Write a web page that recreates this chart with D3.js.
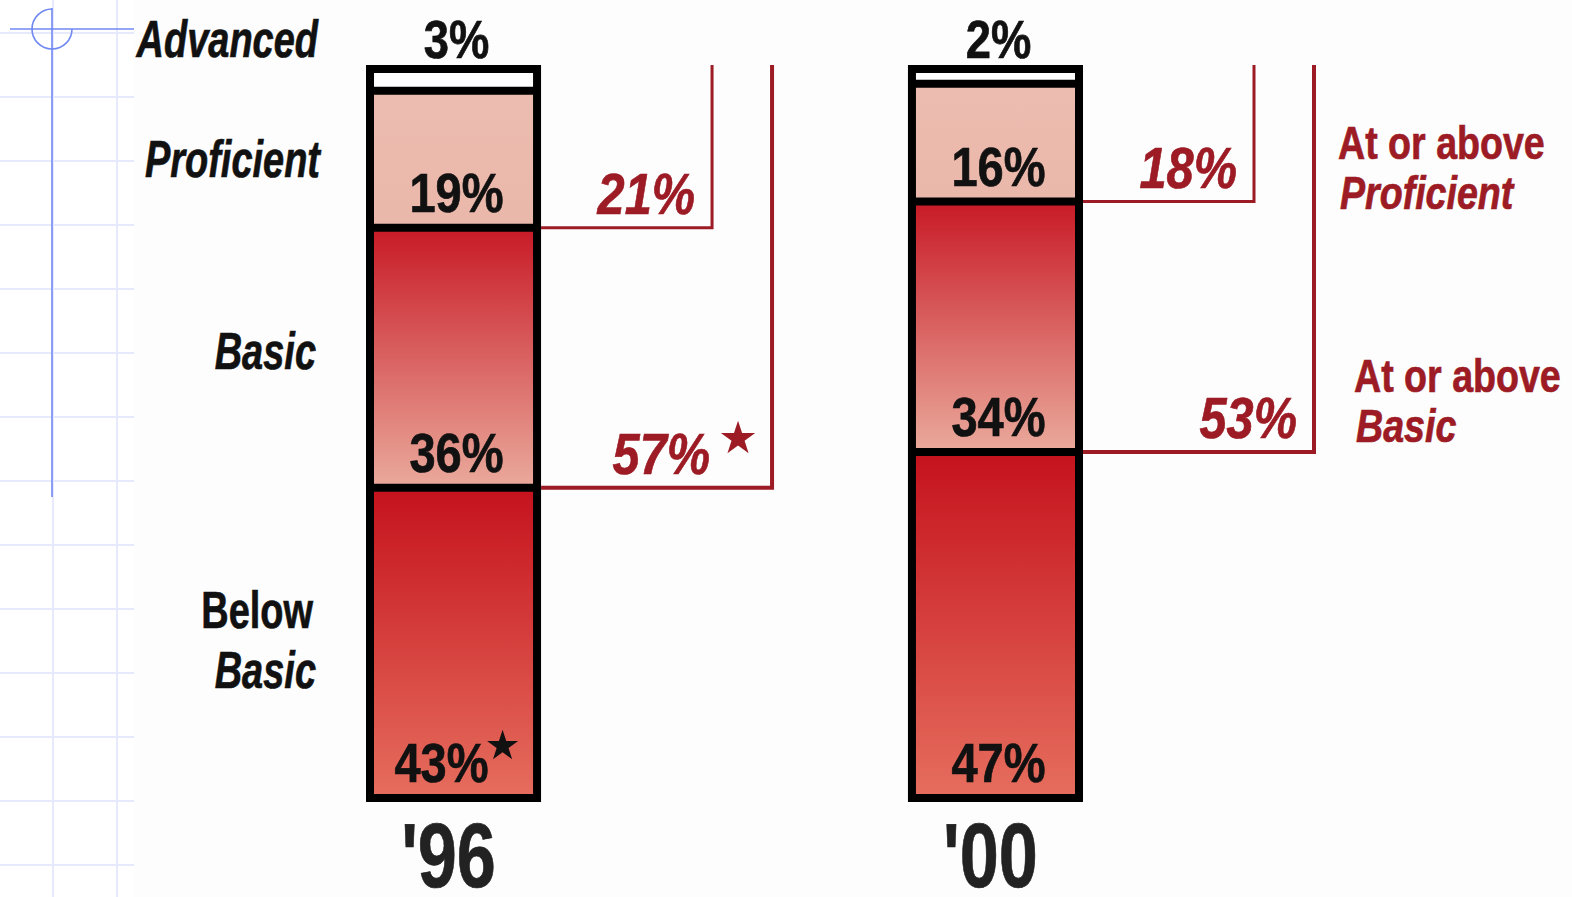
<!DOCTYPE html>
<html>
<head>
<meta charset="utf-8">
<script src="https://cdn.jsdelivr.net/npm/d3@7"></script>
<style>
  html, body { margin: 0; padding: 0; background: #fdfdfd; }
  svg { display: block; }
</style>
</head>
<body>
<svg id="chart" width="1572" height="897"></svg>
<script>
// ---------------- data ----------------
const years = ["'96", "'00"];
const advanced = [3, 2];
const proficient = [19, 16];
const basic = [36, 34];
const belowBasic = [43, 47];
const atOrAboveProficient = [21, 18];
const atOrAboveBasic = [57, 53];
const belowBasicStar = [true, false];
const atOrAboveBasicStar = [true, false];
const levelLabels = ["Advanced", "Proficient", "Basic", ["Below", "Basic"]];
const legendLabels = [["At or above", "Proficient"], ["At or above", "Basic"]];

// ---------------- setup ----------------
const W = 1572, H = 897;
const svg = d3.select("#chart");
const FONT = "'Liberation Sans', Arial, Helvetica, sans-serif";
const RED = "#9c1b24";
const BORDER = 8;

// condensed text helper: horizontally scaled text
function ctext(parent, x, y, str, o) {
  const sx = o.sx || 0.78;
  const g = parent.append("g").attr("transform", `translate(${x},${y}) scale(${sx},1)`);
  const t = g.append("text")
    .attr("text-anchor", o.anchor || "start")
    .attr("font-family", FONT).attr("font-weight", "bold")
    .attr("font-style", o.italic ? "italic" : "normal")
    .attr("font-size", o.size).attr("fill", o.fill || "#111")
    .attr("stroke", o.fill || "#111").attr("stroke-width", 0.7)
    .text(str);
  return { g, t, w: t.node().getComputedTextLength() * sx };
}

// background
svg.append("rect").attr("width", W).attr("height", H).attr("fill", "#fdfdfd");

// left decorative grid
const gridG = svg.append("g");
gridG.append("rect").attr("x", 0).attr("y", 0).attr("width", 134).attr("height", H).attr("fill", "#ffffff");
d3.range(33, H, 64).forEach(y => {
  gridG.append("line").attr("x1", 0).attr("x2", 134).attr("y1", y).attr("y2", y)
    .attr("stroke", "#e6eafc").attr("stroke-width", 2);
});
[53, 117].forEach(x => {
  gridG.append("line").attr("x1", x).attr("x2", x).attr("y1", 0).attr("y2", H)
    .attr("stroke", "#e6eafc").attr("stroke-width", 2);
});
const BLUE = "#7088f2";
gridG.append("line").attr("x1", 10).attr("x2", 134).attr("y1", 29).attr("y2", 29)
  .attr("stroke", BLUE).attr("stroke-width", 1.6);
gridG.append("line").attr("x1", 52).attr("x2", 52).attr("y1", 8).attr("y2", 497)
  .attr("stroke", BLUE).attr("stroke-width", 1.6);
const arcP = d3.path();
arcP.arc(52, 29, 20, 0, 1.5 * Math.PI);
gridG.append("path").attr("d", arcP.toString()).attr("fill", "none")
  .attr("stroke", BLUE).attr("stroke-width", 1.6);

// gradients
const defs = svg.append("defs");
function grad(id, c0, c1) {
  const g = defs.append("linearGradient").attr("id", id)
    .attr("x1", 0).attr("y1", 0).attr("x2", 0).attr("y2", 1);
  g.append("stop").attr("offset", "0%").attr("stop-color", c0);
  g.append("stop").attr("offset", "100%").attr("stop-color", c1);
}
grad("gBasic", "#c81a26", "#eaaa9c");
grad("gBelow", "#c5121d", "#e66e5e");
grad("gProf", "#ecbcb0", "#eab8aa");

// scales
const x = d3.scaleBand().domain(years).range([366, 1083]).paddingInner(0.677).paddingOuter(0);
const bw = x.bandwidth();
const yTop = 65, yBottom = 802;

const star = d3.symbol().type(d3.symbolStar).size(364);

years.forEach((yr, i) => {
  const segs = [
    { key: "below", v: belowBasic[i], fill: "url(#gBelow)" },
    { key: "basic", v: basic[i], fill: "url(#gBasic)" },
    { key: "prof", v: proficient[i], fill: "url(#gProf)" },
    { key: "adv", v: advanced[i], fill: "#ffffff" }
  ];
  const total = d3.sum(segs, d => d.v);
  const y = d3.scaleLinear().domain([0, total]).range([yBottom - BORDER / 2, yTop + BORDER / 2]);
  let acc = 0;
  segs.forEach(s => { s.y0 = acc; acc += s.v; s.y1 = acc; });

  const x0 = x(yr), x1 = x0 + bw, cx = x0 + bw / 2;
  const g = svg.append("g");

  // segments
  g.selectAll("rect.seg").data(segs).join("rect")
    .attr("class", "seg")
    .attr("x", x0 + BORDER / 2).attr("width", bw - BORDER)
    .attr("y", d => y(d.y1)).attr("height", d => y(d.y0) - y(d.y1))
    .attr("fill", d => d.fill);
  // dividers
  g.selectAll("line.div").data(segs.slice(0, 3)).join("line")
    .attr("class", "div")
    .attr("x1", x0 + BORDER / 2).attr("x2", x1 - BORDER / 2)
    .attr("y1", d => y(d.y1)).attr("y2", d => y(d.y1))
    .attr("stroke", "#000").attr("stroke-width", BORDER);
  // outline
  g.append("rect")
    .attr("x", x0 + BORDER / 2).attr("y", yTop + BORDER / 2)
    .attr("width", bw - BORDER).attr("height", yBottom - yTop - BORDER)
    .attr("fill", "none").attr("stroke", "#000").attr("stroke-width", BORDER);

  // in-bar labels (bottom of segments)
  segs.slice(0, 3).forEach(s => {
    const withStar = s.key === "below" && belowBasicStar[i];
    const by = y(s.y0) - 16;
    if (withStar) {
      const tmp = ctext(g, 0, by, s.v + "%", { size: 56, sx: 0.84 });
      const startX = cx + 3 - (tmp.w + 30) / 2;
      tmp.g.attr("transform", `translate(${startX},${by}) scale(0.84,1)`);
      g.append("path").attr("d", d3.symbol().type(d3.symbolStar).size(300)())
        .attr("transform", `translate(${startX + tmp.w + 14},${by - 36})`)
        .attr("fill", "#111");
    } else {
      ctext(g, cx + 3, by, s.v + "%", { size: 56, sx: 0.84, anchor: "middle" });
    }
  });
  // advanced label above bar
  ctext(g, cx + 3, 58, advanced[i] + "%", { size: 54, sx: 0.84, anchor: "middle" });

  // year label
  ctext(g, cx - 5, 887, yr, { size: 90, sx: 0.78, anchor: "middle", fill: "#222" });

  // brackets
  const brackets = [
    { yv: y(segs[1].y1), bx: x1 + 171, val: atOrAboveProficient[i], st: false, sw: 3 },
    { yv: y(segs[0].y1), bx: x1 + 231, val: atOrAboveBasic[i], st: atOrAboveBasicStar[i], sw: 4 }
  ];
  brackets.forEach(b => {
    g.append("path")
      .attr("d", `M${x1},${b.yv}H${b.bx}V${yTop}`)
      .attr("fill", "none").attr("stroke", RED).attr("stroke-width", b.sw);
    if (b.st) {
      ctext(g, b.bx - 62, b.yv - 14, b.val + "%", { size: 58, sx: 0.84, italic: true, anchor: "end", fill: RED });
      g.append("path").attr("d", star())
        .attr("transform", `translate(${b.bx - 34},${b.yv - 49})`)
        .attr("fill", RED);
    } else {
      ctext(g, b.bx - 17, b.yv - 14, b.val + "%", { size: 58, sx: 0.84, italic: true, anchor: "end", fill: RED });
    }
  });

  // left level labels (from first bar)
  if (i === 0) {
    const lab = svg.append("g");
    const o = { size: 52, sx: 0.73, anchor: "end" };
    ctext(lab, 318, 57, levelLabels[0], { ...o, italic: true });
    const midProf = (y(segs[2].y0) + y(segs[2].y1)) / 2;
    ctext(lab, 320, midProf + 18, levelLabels[1], { ...o, italic: true });
    const midBasic = (y(segs[1].y0) + y(segs[1].y1)) / 2;
    ctext(lab, 316, midBasic + 11, levelLabels[2], { ...o, italic: true });
    const midBelow = (y(segs[0].y0) + y(segs[0].y1)) / 2;
    ctext(lab, 313, midBelow - 15, levelLabels[3][0], o);
    ctext(lab, 316, midBelow + 45, levelLabels[3][1], { ...o, italic: true });
  }

  // right legend (from last bar)
  if (i === years.length - 1) {
    const lg = svg.append("g");
    const o = { size: 47, sx: 0.8, fill: RED };
    const p = brackets[0], bb = brackets[1];
    ctext(lg, bb.bx + 24, p.yv - 43, legendLabels[0][0], o);
    ctext(lg, bb.bx + 26, p.yv + 7, legendLabels[0][1], { ...o, italic: true });
    ctext(lg, bb.bx + 40, bb.yv - 60, legendLabels[1][0], o);
    ctext(lg, bb.bx + 42, bb.yv - 10, legendLabels[1][1], { ...o, italic: true });
  }
});
</script>
</body>
</html>
